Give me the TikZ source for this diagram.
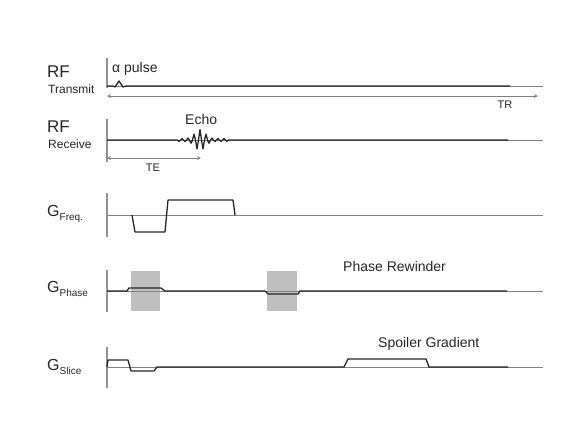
\documentclass[tikz,border=0pt]{standalone}
\usepackage{fontspec}
\setmainfont{Liberation Sans}
\newcommand{\fsz}[1]{\fontsize{#1}{#1}\selectfont}
\newcommand{\gsub}[1]{G\raisebox{-4pt}{\fsz{10}#1}}
\begin{document}
\begin{tikzpicture}[x=1pt,y=-1pt,>=stealth,
	axis/.style={draw=gray!85,line width=1.2pt},
	wave/.style={draw=black!85,line width=1.3pt,line join=round},
	base/.style={draw=gray,line width=0.8pt},
	span/.style={draw=gray,line width=0.8pt,<->},
	lab/.style={text=black!85,inner sep=0pt,anchor=base west},
	graybox/.style={fill=gray!50,draw=none}]
	\useasboundingbox (0,0) rectangle (576,432);
	% axes
	\foreach \t/\b in {58/88,119/162,193/237,270/312,347/388}
	\draw[axis] (107,\t)--(107,\b);
	% labels
	\node[lab,font=\fsz{17}] (rf1) at (47,77) {RF};
	\node[lab,font=\fsz{12}] (tx) at (48,93) {Transmit};
	\node[lab,font=\fsz{17}] (rf2) at (47,132) {RF};
	\node[lab,font=\fsz{12}] (rx) at (48,148) {Receive};
	\node[lab,font=\fsz{16}] (gf) at (47,216) {\gsub{Freq.}};
	\node[lab,font=\fsz{16}] (gp) at (47,292) {\gsub{Phase}};
	\node[lab,font=\fsz{16}] (gs) at (47,370) {\gsub{Slice}};
	\node[lab,font=\fsz{14}] (alpha) at (112,72) {α pulse};
	\node[lab,font=\fsz{14}] (echo) at (185,124) {Echo};
	\node[lab,font=\fsz{14}] (rew) at (343,271) {Phase Rewinder};
	\node[lab,font=\fsz{14}] (spoil) at (378,347) {Spoiler Gradient};
	% RF transmit
	\draw[base] (107,86)--(543,86);
	\draw[wave] (107,86)--(113,86)--(115,87)--(119,81)--(123,87)--(126,86)--(510,86);
	\coordinate (trL) at (107,96);
	\coordinate (trR) at (538,96);
	\draw[span] (trL)--(trR);
	\node[lab,anchor=center,font=\fsz{11}] (tr) at (505,105) {TR};
	% RF receive
	\draw[base] (107,140)--(543,140);
	\draw[wave] (107,140)--(177.5,140)
	plot[domain=177.5:228.5,samples=35]
	(\x,{140-(1.5+9*exp(-((\x-200)/7)^2))*sin(60*(\x-180.5))})
	--(508,140);
	\coordinate (teL) at (107,158);
	\coordinate (teR) at (201,158);
	\draw[span] (teL)--(teR);
	\node[lab,anchor=center,font=\fsz{11}] (te) at (153,168) {TE};
	% G freq
	\draw[base] (107,215)--(543,215);
	\draw[wave] (132,215)--(135,232)--(165,232)--(168,200)--(233,200)--(235,215);
	% G phase
	\fill[graybox] (131,271) rectangle (160,311);
	\fill[graybox] (267,271) rectangle (297,311);
	\draw[base] (107,291)--(543,291);
	\draw[wave] (107,291)--(127,291)--(129,288)--(161,288)--(165,291)--(265,291)
	--(268,294)--(298,294)--(300,291)--(507,291);
	% G slice
	\draw[base] (107,367)--(543,367);
	\draw[wave] (107,367)--(108,360)--(128,360)--(131,371)--(154,371)--(157,367)
	--(344,367)--(348,359)--(426,359)--(429,367)--(508,367);
\end{tikzpicture}
\end{document}
